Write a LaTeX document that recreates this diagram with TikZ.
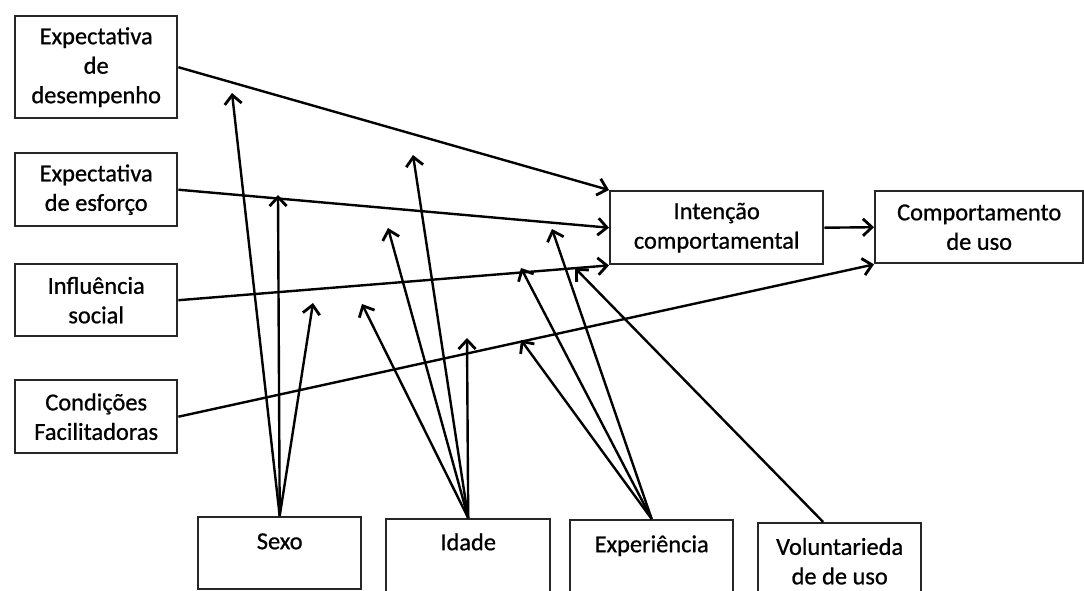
\documentclass[tikz,border=0pt]{standalone}
\usepackage{fontspec}
\setmainfont[FakeBold=0.8]{Carlito}
\usetikzlibrary{arrows.meta,calc}
\begin{document}
\begin{tikzpicture}[x=1pt,y=-1pt,
  box/.style={draw=black!85, line width=2.4pt, fill=white, align=center,
    font=\fontsize{24.4}{29.5}\selectfont, inner sep=0pt, anchor=north west},
  arr/.style={line width=2.4pt, -{Straight Barb[length=9pt,width=17pt,line width=2.8pt]}}
]
\useasboundingbox (0,0) rectangle (1084,590);
\clip (0,0) rectangle (1084,590);

% left column
\node[box, minimum width=162pt, minimum height=102pt] (pe) at (14,15) {Expectativa\\de\\desempenho};
\node[box, minimum width=162pt, minimum height=73pt] (ee) at (14,152) {Expectativa\\de esforço};
\node[box, minimum width=162pt, minimum height=72pt] (is) at (14,263) {Influência\\social};
\node[box, minimum width=162pt, minimum height=73pt] (cf) at (14,379) {Condições\\Facilitadoras};

% right boxes
\node[box, minimum width=213pt, minimum height=73pt] (int) at (609,190) {Intenção\\comportamental};
\node[box, minimum width=208pt, minimum height=72pt] (cu) at (874,190) {Comportamento\\de uso};

% bottom moderators
\node[box, minimum width=163pt, text height=32pt, text depth=40pt] (sx) at (197,516) {Sexo};
\node[box, minimum width=164pt, text height=31pt, text depth=50pt] (id) at (385,518) {Idade};
\node[box, minimum width=163pt, text height=32pt, text depth=50pt] (ex) at (569,519) {Experiência};
\node[box, minimum width=163pt, minimum height=76pt] (vo) at (757,522) {Voluntarieda\\de de uso};

% main paths
\draw[arr] (pe.east) -- (int.north west);
\draw[arr] (ee.east) -- (int.west);
\draw[arr] (is.east) -- (int.south west);
\draw[arr] (cf.east) -- (cu.south west);
\draw[arr] (int.east) -- (cu.west);

% moderator targets
\coordinate (s1) at (232,93);
\coordinate (s2) at (278,195);
\coordinate (s3) at (313,303);
\coordinate (i1) at (413,155);
\coordinate (i2) at (388,228);
\coordinate (i3) at (362,304);
\coordinate (i4) at (467,338);
\coordinate (e1) at (552,229);
\coordinate (e2) at (521,268);
\coordinate (e3) at (521,340);
\coordinate (v1) at (575,268);
\coordinate (vs) at ($(vo.north west)!0.4!(vo.north east)$);

\foreach \t in {s1,s2,s3} \draw[arr] (sx.north) -- (\t);
\foreach \t in {i1,i2,i3,i4} \draw[arr] (id.north) -- (\t);
\foreach \t in {e1,e2,e3} \draw[arr] (ex.north) -- (\t);
\draw[arr] (vs) -- (v1);
\end{tikzpicture}
\end{document}
